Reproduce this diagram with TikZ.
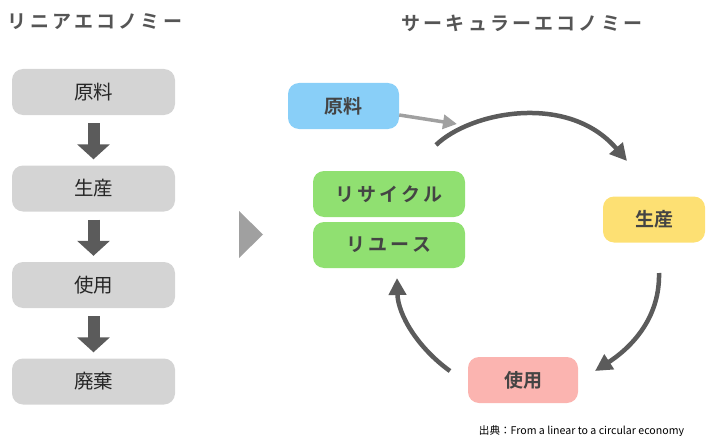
\documentclass[tikz,border=0pt]{standalone}
\usepackage{fontspec}
\setmainfont{Noto Sans CJK JP}
\newfontfamily\jpbold{Noto Sans CJK JP Bold}
\usetikzlibrary{arrows.meta}
\definecolor{boxgray}{HTML}{D4D4D4}
\definecolor{arrgray}{HTML}{5B5B5B}
\definecolor{tigray}{HTML}{555555}
\definecolor{txtdark}{HTML}{444444}
\definecolor{skyb}{HTML}{89CFF8}
\definecolor{yel}{HTML}{FDE073}
\definecolor{pinkb}{HTML}{FBB4B0}
\definecolor{greenb}{HTML}{90E071}
\definecolor{midgray}{HTML}{A0A0A0}
\begin{document}
\begin{tikzpicture}[x=1pt,y=-1pt,
  title/.style={font=\jpbold\fontsize{19}{22}\selectfont, text=tigray, inner sep=0},
  linbox/.style={fill=boxgray, rounded corners=11pt, minimum width=163pt, minimum height=46pt, inner sep=0, font=\fontsize{19.5}{22}\selectfont, text=black!85},
  cbox/.style={rounded corners=11pt, minimum height=46pt, inner sep=0, font=\jpbold\fontsize{19}{22}\selectfont, text=txtdark},
  blockarr/.style={draw=arrgray, line width=12pt, -{Triangle[width=32pt,length=15pt]}, shorten <=8pt, shorten >=6pt},
  cyc/.style={draw=arrgray, line width=4.5pt, -{Triangle[width=17pt,length=17pt]}}
]
\useasboundingbox (0,0) rectangle (707,436);
% titles
\node[title] (tl) at (95,22) {リ\,ニ\,ア\,エ\,コ\,ノ\,ミ\,ー};
\node[title] (tr) at (522,23) {サ\,ー\,キ\,ュ\,ラ\,ー\,エ\,コ\,ノ\,ミ\,ー};
% linear
\node[linbox] (l1) at (93.5,92) {原料};
\node[linbox] (l2) at (93.5,188.5) {生産};
\node[linbox] (l3) at (93.5,285) {使用};
\node[linbox] (l4) at (93.5,381.5) {廃棄};
\draw[blockarr] (l1.south) -- (l2.north);
\draw[blockarr] (l2.south) -- (l3.north);
\draw[blockarr] (l3.south) -- (l4.north);
% middle triangle
\fill[midgray] (239,211) -- (263,234.5) -- (239,258) -- cycle;
% circular
\node[cbox, fill=skyb, minimum width=111pt] (c1) at (343.5,106) {原料};
\node[cbox, fill=yel, minimum width=102pt] (c2) at (654,219.5) {生産};
\node[cbox, fill=pinkb, minimum width=110pt] (c3) at (523,380) {使用};
\node[cbox, fill=greenb, minimum width=152pt] (c4) at (389,194) {リ\,サ\,イ\,ク\,ル};
\node[cbox, fill=greenb, minimum width=152pt] (c5) at (389,245) {リ\,ユ\,ー\,ス};
\coordinate (a1s) at (436,145);
\coordinate (a1e) at (627,161);
\coordinate (a2s) at (659,273);
\coordinate (a2e) at (595,371);
\coordinate (a3s) at (450,371);
\coordinate (a3e) at (397,278);
\coordinate (g1) at (457,124);
\draw[draw=midgray, line width=3.5pt, -{Triangle[width=14pt,length=14pt]}] (c1.east |- 0,115) -- (g1);
\draw[cyc] (a1s) .. controls (470,112) and (568,92) .. (a1e);
\draw[cyc] (a2s) .. controls (660,315) and (635,345) .. (a2e);
\draw[cyc] (a3s) .. controls (418,348) and (398,315) .. (a3e);
% caption
\node[font=\fontsize{10.6}{12}\selectfont, text=black, inner sep=0] (cap) at (581.5,431) {出典：From a linear to a circular economy};
\end{tikzpicture}
\end{document}
